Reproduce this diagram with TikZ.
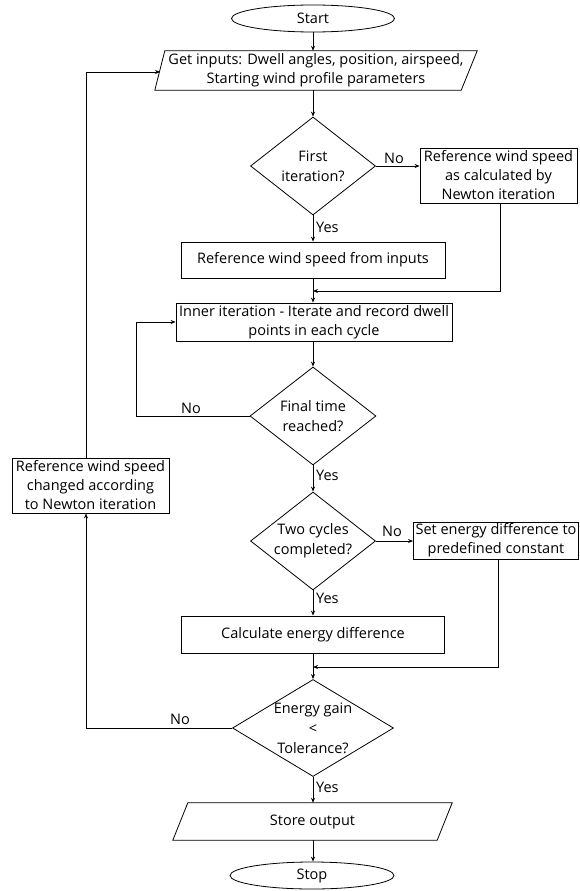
\documentclass[tikz,border=0pt]{standalone}
\usepackage{fontspec}
\setmainfont{Open Sans}
\usetikzlibrary{shapes.geometric,arrows.meta,calc}
\begin{document}
\begin{tikzpicture}[x=1pt,y=-1pt,
  every node/.style={font=\fontsize{14.5}{19}\selectfont},
  line/.style={draw=black, line width=0.8pt},
  arr/.style={line, -{Stealth[length=5pt,width=4pt]}},
  box/.style={draw, line width=0.8pt, rectangle, inner sep=0pt, align=center},
  plain/.style={inner sep=0pt, align=center},
  term/.style={draw, line width=0.8pt, ellipse, inner sep=0pt},
  dia/.style={draw, line width=0.8pt, diamond, inner sep=0pt},
  dtext/.style={align=center, inner sep=0pt},
  lbl/.style={inner sep=0pt}
]
\useasboundingbox (0,0) rectangle (579,891);

% terminals and boxes
\node[term, minimum width=163, minimum height=27] (start) at (313,18.5) {Start};
\node[plain, minimum width=322, minimum height=39] (in) at (316,70.5)
  {Get inputs: Dwell angles, position, airspeed,\\Starting wind profile parameters};
\draw[line] ([xshift=10pt]in.north west) -- (in.north east) -- ([xshift=-16pt]in.south east) -- (in.south west) -- cycle;

\node[dia, minimum width=125, minimum height=98] (d1) at (313,166) {};
\node[dtext, font=\fontsize{14.5}{20}\selectfont] (d1t) at (d1) {First\\iteration?};

\node[box, minimum width=157, minimum height=55] (r1) at (498.5,175.5)
  {Reference wind speed\\as calculated by\\Newton iteration};

\node[box, minimum width=264, minimum height=36] (b1) at (313,260)
  {Reference wind speed from inputs};

\coordinate (m1) at (313,291);

\node[box, minimum width=276, minimum height=38] (inner) at (314,322)
  {Inner iteration - Iterate and record dwell\\points in each cycle};

\node[dia, minimum width=126, minimum height=98] (d2) at (313,416) {};
\node[dtext, font=\fontsize{14.5}{20}\selectfont] (d2t) at (d2) {Final time\\reached?};

\node[box, minimum width=157, minimum height=55] (lb) at (90.5,485.5)
  {Reference wind speed\\changed according\\to Newton iteration};

\node[dia, minimum width=125, minimum height=98] (d3) at (313,541) {};
\node[dtext, font=\fontsize{14.5}{20}\selectfont] (d3t) at (d3) {Two cycles\\completed?};

\node[box, minimum width=165, minimum height=37] (r2) at (496,540.5)
  {Set energy difference to\\predefined constant};

\node[box, minimum width=263, minimum height=37] (calc) at (313,634.5)
  {Calculate energy difference};

\coordinate (m2) at (313,667);

\node[dia, minimum width=161, minimum height=97] (d4) at (313,728) {};
\node[dtext, font=\fontsize{14.5}{20}\selectfont] (d4t) at (d4) {Energy gain\\<\\Tolerance?};

\node[plain, minimum width=279, minimum height=37] (store) at (312.5,821.5) {Store output};
\draw[line] ([xshift=15pt]store.north west) -- (store.north east) -- ([xshift=-15pt]store.south east) -- (store.south west) -- cycle;

\node[term, minimum width=164, minimum height=27] (stop) at (312,875.5) {Stop};

% loop coordinates
\coordinate (lp1) at (136,416);
\coordinate (lp2) at (86,728);
\coordinate (inL) at (160,72);

% connectors
\draw[arr] (start.south) -- (start.south |- in.north);
\draw[arr] (in.south -| d1.north) -- (d1.north);
\draw[arr] (d1.east) -- (d1.east -| r1.west);
\draw[arr] (d1.south) -- (b1.north -| d1.south);
\draw[arr] (b1.south -| m1) -- (inner.north -| m1);
\draw[arr] ([xshift=1.5pt]r1.south) |- (m1);
\draw[arr] (inner.south -| d2.north) -- (d2.north);
\draw[arr] (d2.west) -- (lp1) |- (inner.west);
\draw[arr] (d2.south) -- (d3.north);
\draw[arr] (d3.east) -- (d3.east -| r2.west);
\draw[arr] (d3.south) -- (calc.north -| d3.south);
\draw[arr] (calc.south -| m2) -- (d4.north);
\draw[arr] ([xshift=2pt]r2.south) |- (m2);
\draw[arr] (d4.west) -- (lp2) -- (lp2 |- lb.south);
\draw[arr] (lp2 |- lb.north) -- (lp2 |- inL) -- (inL);
\draw[arr] (d4.south) -- (store.north -| d4.south);
\draw[arr] (store.south -| d4.south) -- (stop.north -| d4.south);

% labels
\node[lbl] (no1) at (394,158) {No};
\node[lbl, anchor=west] (yes1) at (316,227) {Yes};
\node[lbl] (no2) at (191,408) {No};
\node[lbl, anchor=west] (yes2) at (316,475) {Yes};
\node[lbl] (no3) at (392,531) {No};
\node[lbl, anchor=west] (yes3) at (316,598) {Yes};
\node[lbl] (no4) at (180,719) {No};
\node[lbl, anchor=west] (yes4) at (316,787) {Yes};
\end{tikzpicture}
\end{document}
